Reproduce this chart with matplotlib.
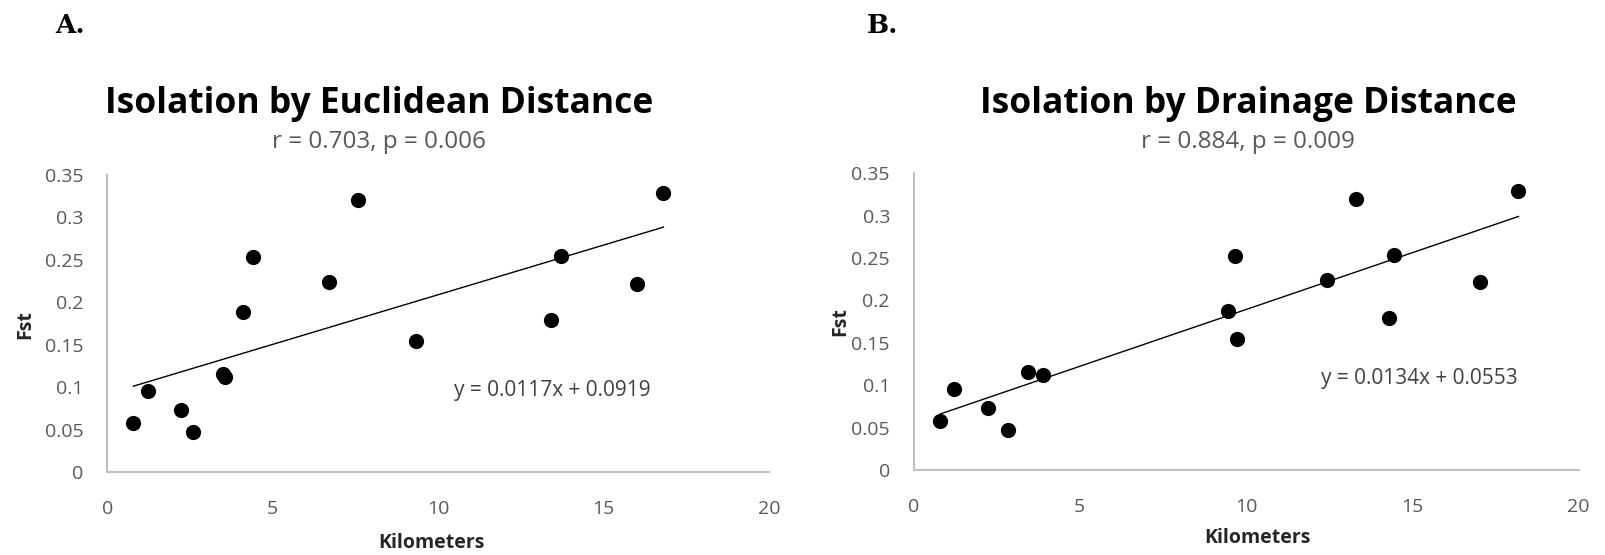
import numpy as np
import matplotlib
matplotlib.use("Agg")
import matplotlib.pyplot as plt

plt.rcParams['font.family'] = ['Open Sans', 'DejaVu Sans']

### Data : pairwise Fst between sites vs distance (km)
fst = [0.058, 0.096, 0.073, 0.047, 0.116, 0.112, 0.188, 0.253, 0.224, 0.320,
       0.154, 0.179, 0.254, 0.222, 0.329]
euclid_km = [0.79, 1.22, 2.23, 2.59, 3.50, 3.56, 4.11, 4.40, 6.70, 7.57,
             9.32, 13.41, 13.70, 16.00, 16.81]
drain_km = [0.80, 1.23, 2.25, 2.83, 3.45, 3.90, 9.47, 9.67, 12.43, 13.30,
            9.72, 14.30, 14.44, 17.04, 18.19]

### Trendline coefficients (slope, intercept) and stats
fit_euclid = (0.0117, 0.0919)
fit_drain = (0.0134, 0.0553)
titles = ["Isolation by Euclidean Distance", "Isolation by Drainage Distance"]
stats = ["r = 0.703, p = 0.006", "r = 0.884, p = 0.009"]
panels = ["A.", "B."]

x_ticks = [0, 5, 10, 15, 20]
y_ticks = [0, 0.05, 0.1, 0.15, 0.2, 0.25, 0.3, 0.35]

W, H = 1606, 555
fig = plt.figure(figsize=(W / 100, H / 100), dpi=100)

# axes boxes in pixels: left, right, top, bottom
boxes = [(107.3, 769.0, 175.0, 472.0), (913.5, 1578.5, 173.3, 470.0)]
eq_pos = [(0.673, 0.276), (0.760, 0.310)]
ylab_pos = [(-0.124, 0.495), (-0.1105, 0.50)]
xlab_pos = [(0.49, -0.239), (0.5166, -0.229)]
title_x = [379, 1248]
panel_x = [55, 867]

grey_txt = '#595959'

for i, (xs, fit) in enumerate([(euclid_km, fit_euclid), (drain_km, fit_drain)]):
    l, r, t, b = boxes[i]
    ax = fig.add_axes([l / W, 1 - b / H, (r - l) / W, (b - t) / H])

    ax.scatter(xs, fst, s=120, color='black', zorder=3, linewidths=0)

    # linear trendline over the data range
    xx = np.array([min(xs), max(xs)])
    ax.plot(xx, fit[0] * xx + fit[1], color='black', lw=1.0, zorder=2)

    ax.set_xlim(0, 20)
    ax.set_ylim(0, 0.35)
    ax.set_xticks(x_ticks)
    ax.set_yticks(y_ticks)
    ax.set_xticklabels([f"{v:g}" for v in x_ticks])
    ax.set_yticklabels([f"{v:g}" for v in y_ticks])
    ax.tick_params(length=0, labelsize=14, colors=grey_txt)
    ax.tick_params(axis='x', pad=20)
    ax.tick_params(axis='y', pad=17)
    for s in ['top', 'right']:
        ax.spines[s].set_visible(False)
    for s in ['left', 'bottom']:
        ax.spines[s].set_color('#BFBFBF')
        ax.spines[s].set_linewidth(1.5)

    ax.text(*eq_pos[i], f"y = {fit[0]}x + {fit[1]}", transform=ax.transAxes,
            ha='center', va='center', fontsize=15, color='#404040')
    ax.text(*ylab_pos[i], "Fst", transform=ax.transAxes, rotation=90,
            ha='center', va='center', fontsize=14, fontweight='bold', color='#262626')
    ax.text(*xlab_pos[i], "Kilometers", transform=ax.transAxes,
            ha='center', va='center', fontsize=14, fontweight='bold', color='#262626')

    fig.text(title_x[i] / W, 1 - 113.3 / H, titles[i], ha='center', va='baseline',
             fontsize=25.5, fontweight='bold', color='black')
    fig.text(title_x[i] / W, 1 - 148.3 / H, stats[i], ha='center', va='baseline',
             fontsize=17.5, color=grey_txt)
    fig.text(panel_x[i] / W, 1 - 32.7 / H, panels[i], ha='left', va='baseline',
             fontsize=19, fontweight='bold', family='DejaVu Serif')

fig.savefig("out.png", dpi=100)
